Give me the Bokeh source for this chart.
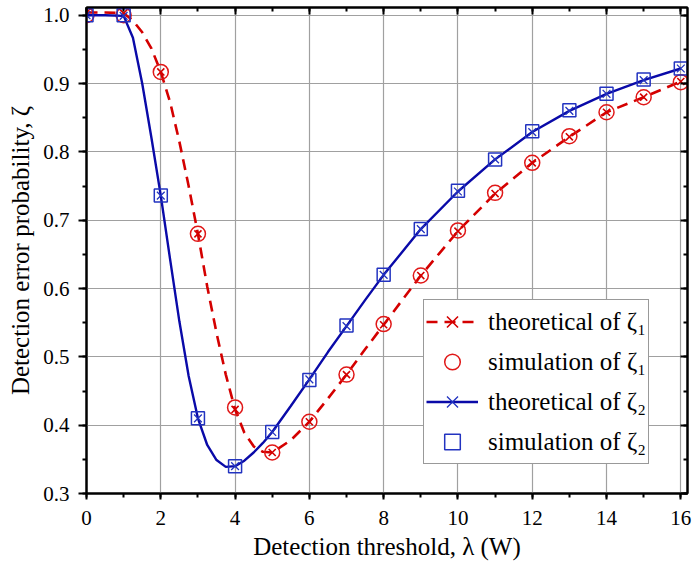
from bokeh.plotting import figure
from bokeh.models import (Range1d, LinearAxis, SingleIntervalTicker, PrintfTickFormatter,
                          Legend, LegendItem)
from bokeh.embed import file_html
from bokeh.resources import INLINE

# ---- data ----
lam_theory = [0, 0.5, 1, 1.25, 1.5, 1.75, 2, 2.25, 2.5, 2.75, 3, 3.25, 3.5, 3.75, 4,
              4.25, 4.5, 4.75, 5, 5.5, 6, 6.5, 7, 7.5, 8, 9, 10, 11, 12, 13, 14, 15, 16]
zeta1_theory = [1.004, 1.004, 1.003, 0.992, 0.975, 0.951, 0.917, 0.873, 0.815, 0.750, 0.680,
                0.603, 0.535, 0.474, 0.423, 0.389, 0.369, 0.361, 0.360, 0.378, 0.405, 0.439,
                0.474, 0.511, 0.547, 0.619, 0.684, 0.739, 0.784, 0.822, 0.858, 0.880, 0.903]
zeta2_theory = [1.000, 1.000, 0.999, 0.967, 0.900, 0.820, 0.736, 0.643, 0.552, 0.472, 0.410,
                0.371, 0.349, 0.339, 0.340, 0.348, 0.360, 0.374, 0.390, 0.428, 0.467, 0.507,
                0.545, 0.583, 0.620, 0.687, 0.742, 0.789, 0.829, 0.860, 0.885, 0.905, 0.922]

lam_sim = [0, 1, 2, 3, 4, 5, 6, 7, 8, 9, 10, 11, 12, 13, 14, 15, 16]
zeta1_sim = [1.000, 1.000, 0.917, 0.680, 0.426, 0.360, 0.405, 0.474, 0.548, 0.619, 0.685,
             0.740, 0.784, 0.823, 0.858, 0.880, 0.902]
zeta2_sim = [1.000, 1.000, 0.736, 0.410, 0.340, 0.390, 0.466, 0.546, 0.620, 0.687, 0.743,
             0.789, 0.830, 0.861, 0.885, 0.906, 0.922]

x_axis_label = "Detection threshold, λ (W)"
y_axis_label = "Detection error probability, ζ"
legend_labels = ["theoretical of ζ₁", "simulation of ζ₁", "theoretical of ζ₂", "simulation of ζ₂"]

# theoretical markers at integer thresholds
mark_x = [x for x in lam_theory if float(x).is_integer()]
mark_z1 = [z for x, z in zip(lam_theory, zeta1_theory) if float(x).is_integer()]
mark_z2 = [z for x, z in zip(lam_theory, zeta2_theory) if float(x).is_integer()]

FONT = "Liberation Serif"
RED_LINE = "#d40000"
RED_MARK = "#e01818"
BLUE_LINE = "#0a0aa8"
BLUE_MARK = "#2233c0"

p = figure(width=693, height=578, output_backend="svg", toolbar_location=None,
           x_range=Range1d(0, 16.18), y_range=Range1d(0.3, 1.0113),
           min_border_left=86, min_border_right=6, min_border_top=7, min_border_bottom=85)
p.background_fill_color = "white"
p.border_fill_color = "white"
p.outline_line_color = "black"
p.outline_line_width = 2

# axes
p.xaxis.ticker = SingleIntervalTicker(interval=2, num_minor_ticks=2)
p.yaxis.ticker = SingleIntervalTicker(interval=0.1, num_minor_ticks=2)
p.yaxis.formatter = PrintfTickFormatter(format="%.1f")
p.xaxis.axis_label = x_axis_label
p.yaxis.axis_label = y_axis_label
for ax in (p.xaxis[0], p.yaxis[0]):
    ax.axis_line_width = 2
    ax.axis_line_color = "black"
    ax.major_tick_line_width = 2
    ax.minor_tick_line_width = 2
    ax.major_tick_line_color = "black"
    ax.minor_tick_line_color = "black"
    ax.major_label_text_font = FONT
    ax.major_label_text_font_size = "21px"
    ax.major_label_text_color = "black"
    ax.axis_label_text_font = FONT
    ax.axis_label_text_font_size = "25px"
    ax.axis_label_text_font_style = "normal"
    ax.axis_label_text_color = "black"
p.yaxis.major_tick_out = 8
p.yaxis.major_tick_in = 0
p.yaxis.minor_tick_out = 4
p.yaxis.minor_tick_in = 0
p.yaxis.major_label_standoff = 9
p.yaxis.axis_label_standoff = 6
p.xaxis.major_tick_out = 6
p.xaxis.major_tick_in = 0
p.xaxis.minor_tick_out = 4
p.xaxis.minor_tick_in = 0
p.xaxis.major_label_standoff = 11
p.xaxis.axis_label_standoff = 5

for loc, tk in (("above", SingleIntervalTicker(interval=2, num_minor_ticks=2)),
                ("right", SingleIntervalTicker(interval=0.1, num_minor_ticks=2))):
    ax = LinearAxis(ticker=tk, major_label_text_font_size="0px", major_label_standoff=0,
                    major_tick_in=7, major_tick_out=0, minor_tick_in=4, minor_tick_out=0,
                    axis_line_width=2, major_tick_line_width=2, minor_tick_line_width=2,
                    axis_line_color="black", major_label_text_alpha=0)
    p.add_layout(ax, loc)

p.xgrid.grid_line_color = "#a0a0a0"
p.ygrid.grid_line_color = "#a0a0a0"
p.xgrid.grid_line_width = 1.2
p.ygrid.grid_line_width = 1.2

# glyphs
r1_line = p.line(lam_theory, zeta1_theory, line_color=RED_LINE, line_width=2.6, line_dash="11 7")
r1_x = p.scatter(mark_x, mark_z1, marker="x", size=10, line_color=RED_LINE, line_width=1.6)
r1_sim = p.scatter(lam_sim, zeta1_sim, marker="circle", size=15, fill_color=None,
                   line_color=RED_MARK, line_width=1.5)
r2_line = p.line(lam_theory, zeta2_theory, line_color=BLUE_LINE, line_width=2.4)
r2_x = p.scatter(mark_x, mark_z2, marker="x", size=11, line_color=BLUE_MARK, line_width=1.3)
r2_sim = p.scatter(lam_sim, zeta2_sim, marker="square", size=13, fill_color=None,
                   line_color=BLUE_MARK, line_width=1.5)

legend = Legend(items=[
    LegendItem(label=legend_labels[0], renderers=[r1_line, r1_x]),
    LegendItem(label=legend_labels[1], renderers=[r1_sim]),
    LegendItem(label=legend_labels[2], renderers=[r2_line, r2_x]),
    LegendItem(label=legend_labels[3], renderers=[r2_sim]),
], location=(337, 29))
legend.label_text_font = FONT
legend.label_text_font_size = "25px"
legend.label_text_color = "black"
legend.glyph_width = 52
legend.glyph_height = 39
legend.label_height = 39
legend.spacing = 1
legend.padding = 2
legend.margin = 0
legend.label_standoff = 10
legend.border_line_color = "#333333"
legend.border_line_width = 1.5
legend.background_fill_alpha = 1.0
p.add_layout(legend, "center")

open("out.html", "w").write(file_html(p, INLINE))
